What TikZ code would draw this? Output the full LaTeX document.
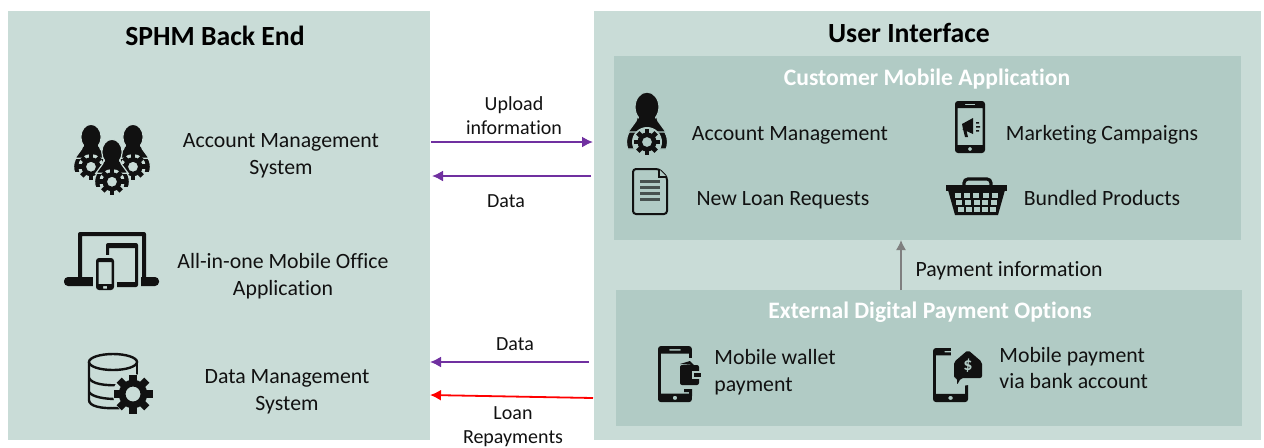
\documentclass[tikz,border=0pt]{standalone}
\usepackage{fontspec}
\setmainfont[Ligatures=NoCommon]{Carlito}
\usetikzlibrary{arrows.meta}
\definecolor{panelgreen}{HTML}{C9DCD7}
\definecolor{boxgreen}{HTML}{B1CBC5}
\definecolor{inkblack}{HTML}{111111}
\definecolor{arrowpurple}{HTML}{7030A0}
\definecolor{arrowgray}{HTML}{7F7F7F}
\tikzset{
    panel/.style={fill=panelgreen, inner sep=0pt},
    innerbox/.style={fill=boxgreen, inner sep=0pt},
    label/.style={font=\fontsize{10.9}{13.4}\selectfont, text=inkblack, align=center, inner sep=0pt},
    flowlabel/.style={label, font=\fontsize{10}{12}\selectfont},
    leftlabel/.style={label, align=left, anchor=west},
    maintitle/.style={font=\fontsize{13.85}{15}\selectfont\bfseries, text=black, inner sep=0pt},
    subtitle/.style={font=\fontsize{11.8}{14}\selectfont\bfseries, text=white, inner sep=0pt},
    dataflow/.style={-{Latex[length=5.5pt,width=5.5pt]}, line width=.9pt, arrowpurple},
    payflow/.style={-{Latex[length=5.5pt,width=5.5pt]}, line width=.9pt, red},
    infoflow/.style={-{Latex[length=5pt,width=5pt]}, line width=.7pt, arrowgray},
    pics/gearicon/.style={code={
        \fill[inkblack, even odd rule] (0,0) circle (9.5) (0,0) circle (5);
        \foreach \a in {0,45,...,315} \fill[inkblack, rotate=\a] (-2.4,8) rectangle (2.4,13);
    }},
    pics/usergear/.style={code={
        \filldraw[draw=#1, fill=inkblack, line width=.6pt] (0,35) ++(160:20.5) arc (160:380:20.5) -- cycle;
        \filldraw[draw=#1, fill=inkblack, line width=.6pt] (-9,8) -- (9,8) -- (11,14) -- (19,25) -- (-19,25) -- (-11,14) -- cycle;
        \filldraw[draw=#1, fill=inkblack, line width=.6pt] (0,0) ellipse (12 and 15);
        \fill[inkblack] (-8,6) rectangle (8,17);
        \fill[#1] (0,35) circle (15);
        \fill[#1] (-22,45) rectangle (22,53);
        \pic at (0,35) {gearicon};
    }},
    pics/phoneicon/.style={code={
        \fill[inkblack, even odd rule] [rounded corners=1.5pt] (0,0) rectangle (30,52)
            [sharp corners] (2.5,7) rectangle (27.5,44) (10,2.8) rectangle (20,4.2) (15,48) circle (2);
    }},
}
\begin{document}
\begin{tikzpicture}[x=.5pt, y=-.5pt]
    \useasboundingbox (0,0) rectangle (1264,447);
    \node[panel, minimum width=211pt, minimum height=214.5pt] (backend) at (219,225.5) {};
    \node[panel, minimum width=333.5pt, minimum height=214.5pt] (frontend) at (927.5,225.5) {};
    \node[innerbox, minimum width=313.5pt, minimum height=92pt] (custapp) at (927.5,148) {};
    \node[innerbox, minimum width=313pt, minimum height=68pt] (extpay) at (929,358) {};

    \node[maintitle] (backendtitle) at (215,36) {SPHM Back End};
    \node[maintitle] (fronttitle) at (909,33) {User Interface};
    \node[subtitle] (custtitle) at (927,79) {Customer Mobile Application};
    \node[subtitle] (paytitle) at (930,312) {External Digital Payment Options};

    \node[label] (accsys) at (281,156) {Account Management\\System};
    \node[label] (officeapp) at (283,276) {All-in-one Mobile Office\\Application};
    \node[label] (datasys) at (287,392) {Data Management\\System};

    \node[flowlabel] (uploadlabel) at (514,116) {Upload\\information};
    \node[flowlabel] (datalabela) at (506,201) {Data};
    \node[flowlabel] (datalabelb) at (515,344) {Data};
    \node[flowlabel] (loanlabel) at (513,427) {Loan\\Repayments};
    \node[label] (paylabel) at (1009,271) {Payment information};

    \node[label] (accmgmt) at (790,135) {Account Management};
    \node[label] (marketing) at (1102,135) {Marketing Campaigns};
    \node[label] (newloan) at (783,200) {New Loan Requests};
    \node[label] (bundled) at (1102,198) {Bundled Products};
    \node[leftlabel] (wallet) at (714,372) {Mobile wallet\\payment};
    \node[leftlabel] (bankpay) at (999,368) {Mobile payment\\via bank account};

    \coordinate (uploadstart) at (431,142);
    \coordinate (uploadend) at (593,142);
    \coordinate (dataastart) at (591,176);
    \coordinate (dataaend) at (432,176);
    \coordinate (databstart) at (589,362);
    \coordinate (databend) at (430,362);
    \coordinate (loanstart) at (593,398);
    \coordinate (loanend) at (430,395);
    \coordinate (paystart) at (901,290);
    \coordinate (payend) at (901,240);
    \draw[dataflow] (uploadstart) -- (uploadend);
    \draw[dataflow] (dataastart) -- (dataaend);
    \draw[dataflow] (databstart) -- (databend);
    \draw[payflow] (loanstart) -- (loanend);
    \draw[infoflow] (paystart) -- (payend);

    \pic[scale=.85] at (91,137) {usergear=panelgreen};
    \pic[scale=.85] at (133,137) {usergear=panelgreen};
    \pic[scale=.85] at (112,152) {usergear=panelgreen};

    \fill[inkblack, even odd rule] [rounded corners=1pt] (78,232) rectangle (146,282) [sharp corners] (82,236) rectangle (142,277);
    \fill[inkblack, rounded corners=2pt] (64,277) rectangle (159,286);
    \fill[panelgreen] (103,240) rectangle (141,289);
    \fill[inkblack, even odd rule] [rounded corners=1pt] (106,243) rectangle (138,287) [sharp corners] (109,248) rectangle (135,282);
    \fill[panelgreen] (93,255) rectangle (117,292);
    \fill[inkblack, even odd rule] [rounded corners=1.5pt] (96,258) rectangle (114,290) [sharp corners] (98.5,262) rectangle (111.5,284) (103,286) rectangle (107,288.5);

    \draw[inkblack, line width=1.2pt] (113,362) ellipse (24 and 8);
    \draw[inkblack, line width=1.2pt] (89,362) -- (89,400) .. controls (89,406) and (100,409) .. (120,408);
    \draw[inkblack, line width=1.2pt] (137,362) -- (137,378);
    \draw[inkblack, line width=1.2pt] (89,378) .. controls (92,384) and (105,386) .. (122,385);
    \draw[inkblack, line width=1.2pt] (89,392) .. controls (92,397) and (105,399) .. (116,399);
    \fill[panelgreen] (133,394) circle (20);
    \pic[scale=1.5] at (133,394) {gearicon};

    \pic at (647,107) {usergear=boxgreen};
    \pic at (955,101) {phoneicon};
    \fill[inkblack] (962,124) -- (973,118) -- (973,134) -- (962,129) -- (966,129) -- (968,137) -- (965,137) -- (963,129) -- cycle;
    \fill[inkblack] (976,122) rectangle (979,123.5) (976,126) rectangle (980,127.5) (976,130) rectangle (979,131.5);

    \draw[inkblack, line width=1pt, rounded corners=1.5pt, fill=boxgreen] (633,169) -- (659,169) -- (667,177) -- (667,214) -- (633,214) -- cycle;
    \draw[inkblack, line width=.6pt, fill=boxgreen] (659,169) -- (659,177) -- (667,177);
    \foreach \y in {180,186,192,198} \fill[black!60!boxgreen] (640,\y) rectangle (660,\y+2.5);

    \draw[inkblack, line width=1.6pt, rounded corners=2pt] (964,188) -- (964,179) -- (991,179) -- (991,188);
    \fill[inkblack] (946,185) rectangle (1007,191);
    \fill[inkblack] (948,190) -- (1005,190) -- (998,215) -- (955,215) -- cycle;
    \foreach \r/\y in {0/193,1/200,2/207}
        \foreach \c in {0,1,2,3,4}
            \fill[boxgreen] (954.5+\r*1.5+\c*9.4-\r*.6*\c,\y) rectangle ++(6,4.5);

    \pic[xscale=1.13, yscale=1.08] at (658,346) {phoneicon};
    \fill[boxgreen] (679,358) rectangle (703,389);
    \fill[inkblack] (680,364) -- (690,361) -- (694,365) -- cycle;
    \fill[inkblack, rounded corners=1pt] (680,365) rectangle (699,385);
    \fill[boxgreen] (692,371) rectangle (702,379);
    \fill[inkblack] (694,373) rectangle (701,377);
    \fill[inkblack] (684,389) rectangle (692,392) (689,392) rectangle (692,396);

    \pic[xscale=1.17, yscale=1.04] at (933,348) {phoneicon};
    \fill[boxgreen] (951,346) -- (970,346) -- (985,360) -- (985,382) -- (951,388) -- cycle;
    \fill[inkblack, rounded corners=1pt] (954,362) -- (968,350) -- (982,362) -- (982,378) -- (961,378) -- (957,385) -- (957,378) -- (954,378) -- cycle;
    \node[font=\fontsize{9}{9}\selectfont\bfseries, text=boxgreen, inner sep=0pt] (dollarsign) at (968,366) {\$};
\end{tikzpicture}
\end{document}
